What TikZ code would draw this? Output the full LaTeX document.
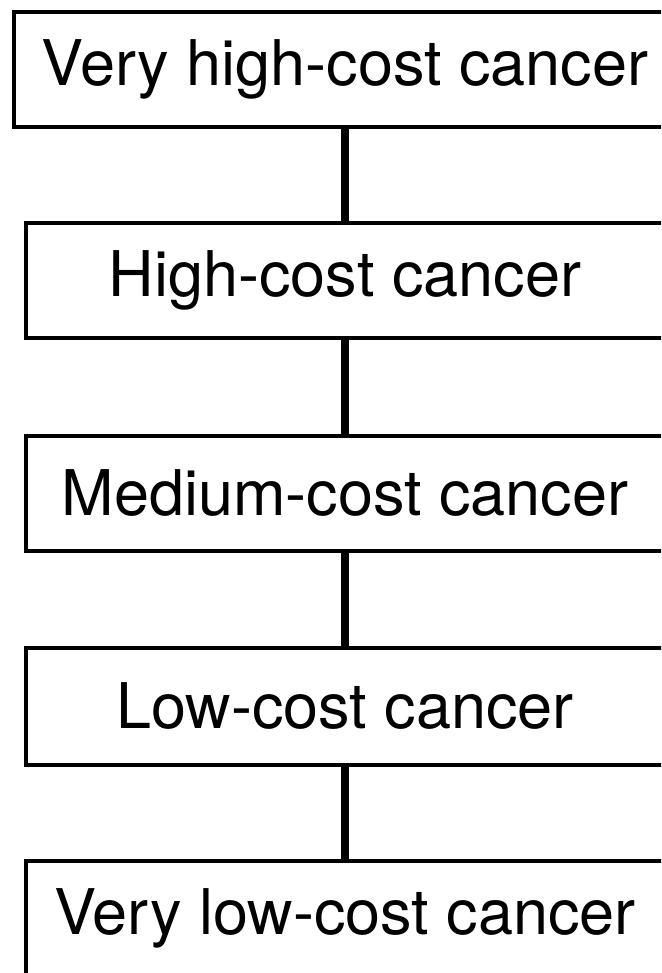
\documentclass[tikz,border=0pt]{standalone}
\usepackage{fontspec}
\setmainfont{TeX Gyre Heros}
\begin{document}
\begin{tikzpicture}[x=1pt,y=1pt,
  costbox/.style={draw=black, line width=4pt, inner sep=0pt, minimum height=115pt,
    font=\fontsize{63}{70}\selectfont, anchor=center},
  link/.style={line width=8pt, black}]
\useasboundingbox (0,0) rectangle (661,-973);
\clip (0,0) rectangle (661,-973);
\node[costbox, minimum width=662pt] (b1) at (345,-69.5) {Very high-cost cancer};
\node[costbox, minimum width=638pt] (b2) at (345,-280.5) {High-cost cancer};
\node[costbox, minimum width=638pt] (b3) at (345,-493.5) {Medium-cost cancer};
\node[costbox, minimum width=638pt, minimum height=117pt] (b4) at (345,-706.5) {Low-cost cancer};
\node[costbox, minimum width=638pt] (b5) at (345,-918.5) {Very low-cost cancer};
\draw[link] (b1.south) -- (b2.north);
\draw[link] (b2.south) -- (b3.north);
\draw[link] (b3.south) -- (b4.north);
\draw[link] (b4.south) -- (b5.north);
\end{tikzpicture}
\end{document}
